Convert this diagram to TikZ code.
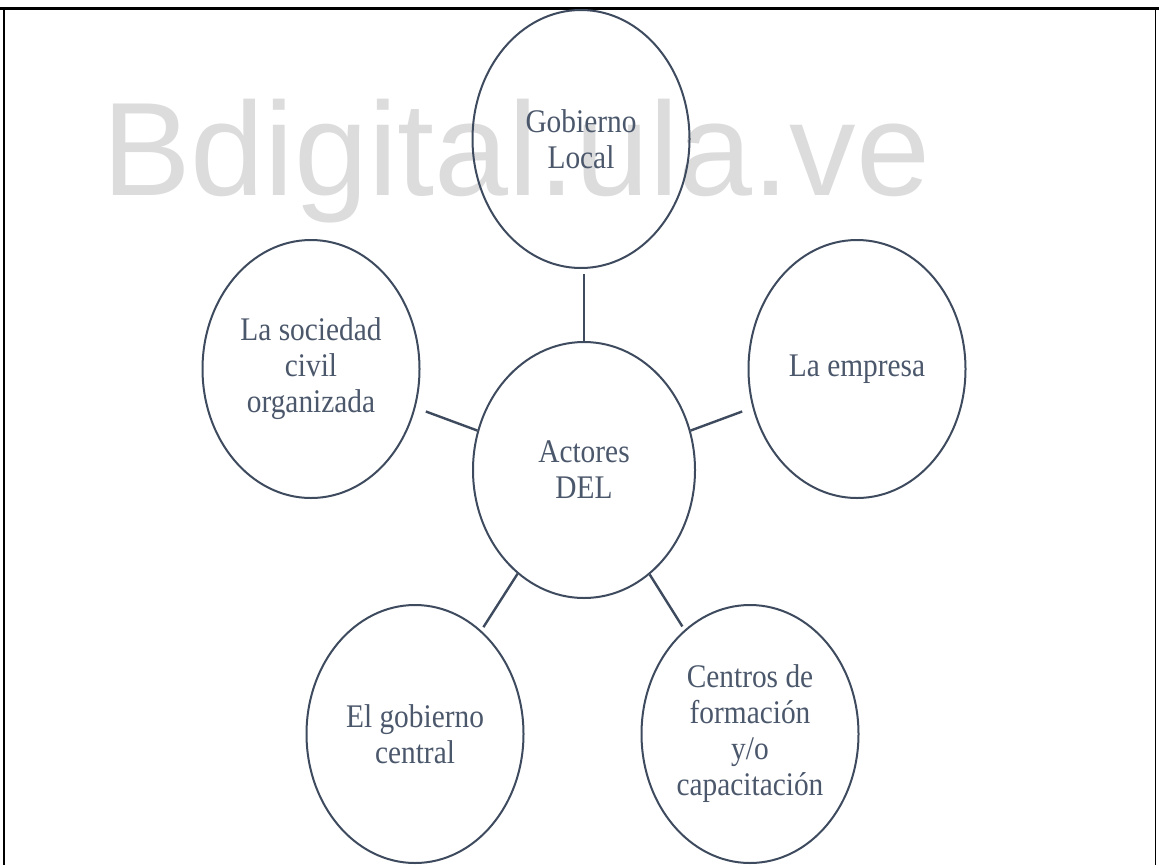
\documentclass[tikz,border=0pt]{standalone}
\usepackage{fontspec}
\usetikzlibrary{shapes.geometric}
\newfontfamily\bubblefont[FakeStretch=0.89]{Liberation Serif}
\newfontfamily\markfont{Liberation Sans}
\definecolor{rimcol}{HTML}{3E4A5E}
\definecolor{txtcol}{HTML}{4B576B}
\definecolor{markcol}{HTML}{DCDCDC}
\tikzset{
  bubble/.style={ellipse,draw=rimcol,line width=2pt,inner sep=0pt,
    minimum width=217pt,minimum height=258pt,align=center,text=txtcol,
    font=\bubblefont\fontsize{33}{36}\selectfont},
  link/.style={draw=rimcol,line width=2.4pt,shorten >=8pt}
}
\begin{document}
\begin{tikzpicture}[x=1pt,y=-1pt]
  \useasboundingbox (0,0) rectangle (1159,865);
  % watermark
  \node[anchor=base west,inner sep=0pt,text=markcol,font=\markfont\fontsize{133}{133}\selectfont] (mark) at (102,195) {Bdigital.ula.ve};
  % frame
  \draw[line width=3pt] (0,8.5) -- (1159,8.5);
  \draw[line width=1.6pt] (4,8.5) -- (4,865);
  \draw[line width=1.6pt] (1155.5,8.5) -- (1155.5,865);
  % bubbles
  \node[bubble,minimum width=222pt,minimum height=256pt] (act) at (584,470) {Actores\\DEL};
  \node[bubble] (gob) at (581,139) {Gobierno\\Local};
  \node[bubble] (soc) at (311,369) {La sociedad\\civil\\organizada};
  \node[bubble] (emp) at (857,369) {La empresa};
  \node[bubble] (cen) at (415,734) {El gobierno\\central};
  \node[bubble] (form) at (750,734) {Centros de\\formación\\y/o\\capacitación};
  % links
  \draw[link,shorten >=5pt] (act.north) -- (act.north |- gob.south);
  \draw[link,shorten >=11pt] (act) -- (soc);
  \draw[link,shorten >=11pt] (act) -- (emp);
  \draw[link,shorten >=4pt] (act) -- (cen);
  \draw[link,shorten >=4pt] (act) -- (form);
\end{tikzpicture}
\end{document}
